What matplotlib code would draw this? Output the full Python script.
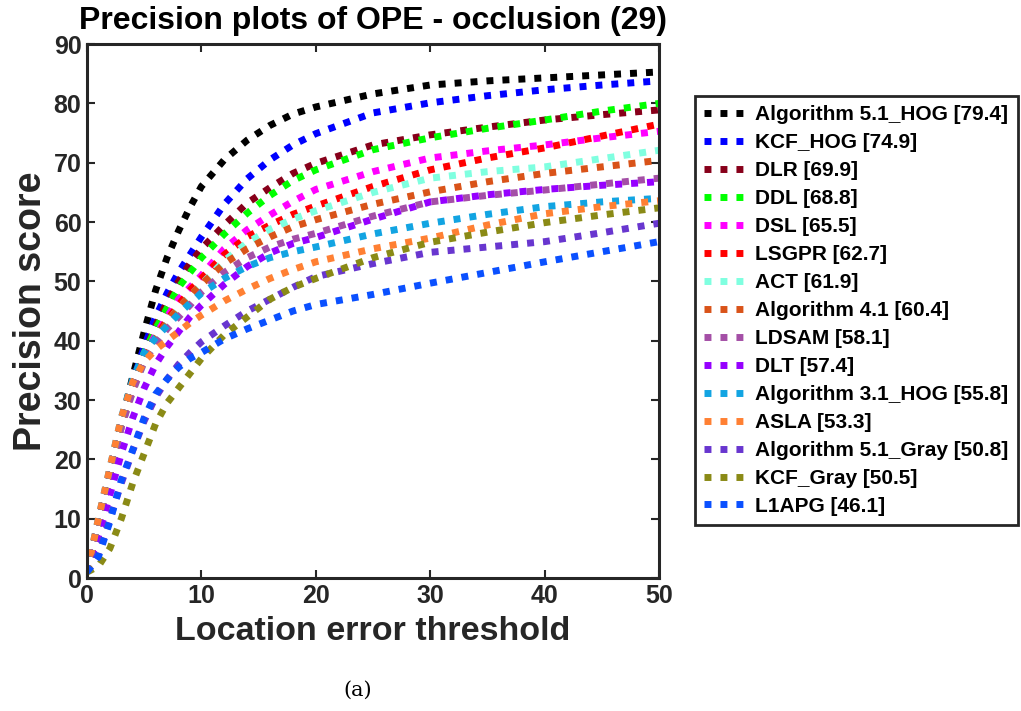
import matplotlib
matplotlib.use("Agg")
import matplotlib.pyplot as plt

# location error thresholds (px)
thr = [0, 1, 2, 3, 4, 5, 6, 7, 8, 9, 10, 12, 14, 16, 18, 20, 25, 30, 35, 40, 45, 50]

alg51_hog = [1, 9, 17.5, 26, 34, 41.5, 48.5, 54, 58.5, 62.5, 66, 70.5, 73.8, 76.3, 78.2, 79.4, 81.6, 83.1, 83.8, 84.3, 84.8, 85.3]
kcf_hog = [1, 9, 17.5, 26, 33, 39, 44, 48, 51.5, 54.5, 57.5, 63, 67.3, 70.5, 73, 74.9, 78.4, 80.1, 81.3, 82.3, 83.1, 83.8]
dlr = [1, 9, 17.5, 26, 32.5, 38, 42.5, 46.5, 50, 53, 55.5, 59.5, 63.2, 65.8, 68.2, 69.9, 73, 74.7, 76, 77.2, 78.1, 78.9]
ddl = [1, 9, 17.5, 26, 32.5, 38, 42, 45.5, 49, 51.5, 54, 58, 61.5, 64.5, 67, 68.8, 72.2, 74.2, 75.8, 77.2, 78.7, 80.0]
dsl = [1, 9, 17.5, 25.5, 32, 37.5, 41, 44, 47, 49, 51, 55.5, 58.7, 61.2, 63.5, 65.5, 68.5, 70.8, 72, 73, 74.2, 75.3]
lsgpr = [1, 9, 17.5, 25.5, 32, 37, 40.5, 43.5, 46, 48.5, 50.5, 54.5, 57.5, 59.5, 61.3, 62.7, 66, 68.8, 70.8, 72.5, 74.5, 76.5]
act = [1, 9, 17.5, 25.5, 31.5, 36.5, 40, 43, 45.5, 47.5, 49.5, 53.5, 56.5, 58.8, 60.5, 61.9, 65, 67.4, 68.5, 69.3, 70.7, 72.1]
alg41 = [1, 9, 17.5, 26, 32, 37, 40.5, 43, 45.5, 47.5, 49.5, 53, 55.5, 57.5, 59.2, 60.4, 63, 65.1, 66.8, 68.2, 69.3, 70.4]
ldsam = [1, 9, 17.5, 25.5, 31.5, 36.5, 39.5, 42, 44, 46, 48.2, 51.5, 54, 55.8, 57.1, 58.1, 61, 63.4, 64.5, 65.4, 66.4, 67.4]
dlt = [1, 7, 14, 21, 27, 32, 36, 39, 41.5, 44, 46, 49.5, 52.5, 54.8, 56.4, 57.4, 60.5, 63.4, 64.6, 65.5, 66.2, 66.8]
alg31_hog = [1, 10, 18.5, 27, 33.5, 38, 40.5, 42.5, 44.5, 46.3, 48, 50.5, 52.5, 54, 55, 55.8, 58, 59.8, 61.3, 62.6, 63.4, 64.0]
asla = [1, 10, 18.5, 27, 33, 36.5, 38.5, 40, 41.5, 43, 44.3, 46.7, 48.7, 50.5, 52, 53.3, 55.5, 57.3, 59.5, 61.4, 62.6, 63.6]
alg51_gray = [1, 4, 10, 16, 21.5, 26.5, 30.5, 33.5, 36, 38, 39.8, 42.5, 45, 47, 49, 50.8, 53, 54.9, 55.8, 56.7, 58.2, 59.8]
kcf_gray = [1, 2, 5, 10, 16, 21, 26, 29.5, 32, 34.5, 37, 41, 44, 47, 49, 50.5, 54, 56.6, 58.3, 59.9, 61.2, 62.4]
l1apg = [1, 3.6, 9.5, 16.5, 21.6, 27, 31, 33.5, 35.5, 37, 38, 40.3, 42, 43.5, 45, 46.1, 47.8, 49.7, 51.5, 53.3, 55, 56.7]

names = ['Algorithm 5.1_HOG [79.4]', 'KCF_HOG [74.9]', 'DLR [69.9]', 'DDL [68.8]',
         'DSL [65.5]', 'LSGPR [62.7]', 'ACT [61.9]', 'Algorithm 4.1 [60.4]',
         'LDSAM [58.1]', 'DLT [57.4]', 'Algorithm 3.1_HOG [55.8]', 'ASLA [53.3]',
         'Algorithm 5.1_Gray [50.8]', 'KCF_Gray [50.5]', 'L1APG [46.1]']
series = [alg51_hog, kcf_hog, dlr, ddl, dsl, lsgpr, act, alg41, ldsam, dlt,
          alg31_hog, asla, alg51_gray, kcf_gray, l1apg]
colors = ['#000000', '#0000FF', '#87001A', '#00FF00', '#FF00FF', '#FF0000',
          '#7FFFE0', '#D95319', '#A44FA6', '#9600FF', '#12A4E2', '#FF8033',
          '#6836CF', '#8A8A16', '#0A50FF']

plt.rcParams['font.family'] = ['Liberation Sans', 'DejaVu Sans']

fig = plt.figure(figsize=(10.21, 7.11), dpi=100)
ax = fig.add_axes([0.0852, 0.187, 0.5603, 0.751])

for ys, c, n in zip(series, colors, names):
    ax.plot(thr, ys, color=c, lw=5, dashes=(1, 1.3), label=n)

ax.set_xlim(0, 50)
ax.set_ylim(0, 90)
ax.set_xticks(range(0, 51, 10))
ax.set_yticks(range(0, 91, 10))
ax.tick_params(direction='in', length=6, width=1.5, top=True, right=True,
               labelsize=18, colors='#262626', pad=4)
for lab in ax.get_xticklabels() + ax.get_yticklabels():
    lab.set_fontweight('bold')
for s in ax.spines.values():
    s.set_linewidth(2.2)
    s.set_color('#262626')

ax.set_title('Precision plots of OPE - occlusion (29)', fontsize=23, fontweight='bold', pad=11)
ax.set_xlabel('Location error threshold', fontsize=24.5, fontweight='bold', color='#262626', labelpad=6)
ax.set_ylabel('Precision score', fontsize=27, fontweight='bold', color='#262626', labelpad=3)

leg = fig.legend(loc='upper left', bbox_to_anchor=(695 / 1021, 1 - 96 / 711),
                 borderaxespad=0, prop={'weight': 'bold', 'size': 15},
                 handlelength=2.0, handletextpad=0.45, labelspacing=0.43,
                 fancybox=False, framealpha=1, borderpad=0.45)
leg.get_frame().set_edgecolor('#262626')
leg.get_frame().set_linewidth(2)

fig.text(0.35, 1 - 690 / 711, '(a)', fontsize=15, family='DejaVu Serif', ha='center', va='center')

fig.savefig('out.png', dpi=100)
